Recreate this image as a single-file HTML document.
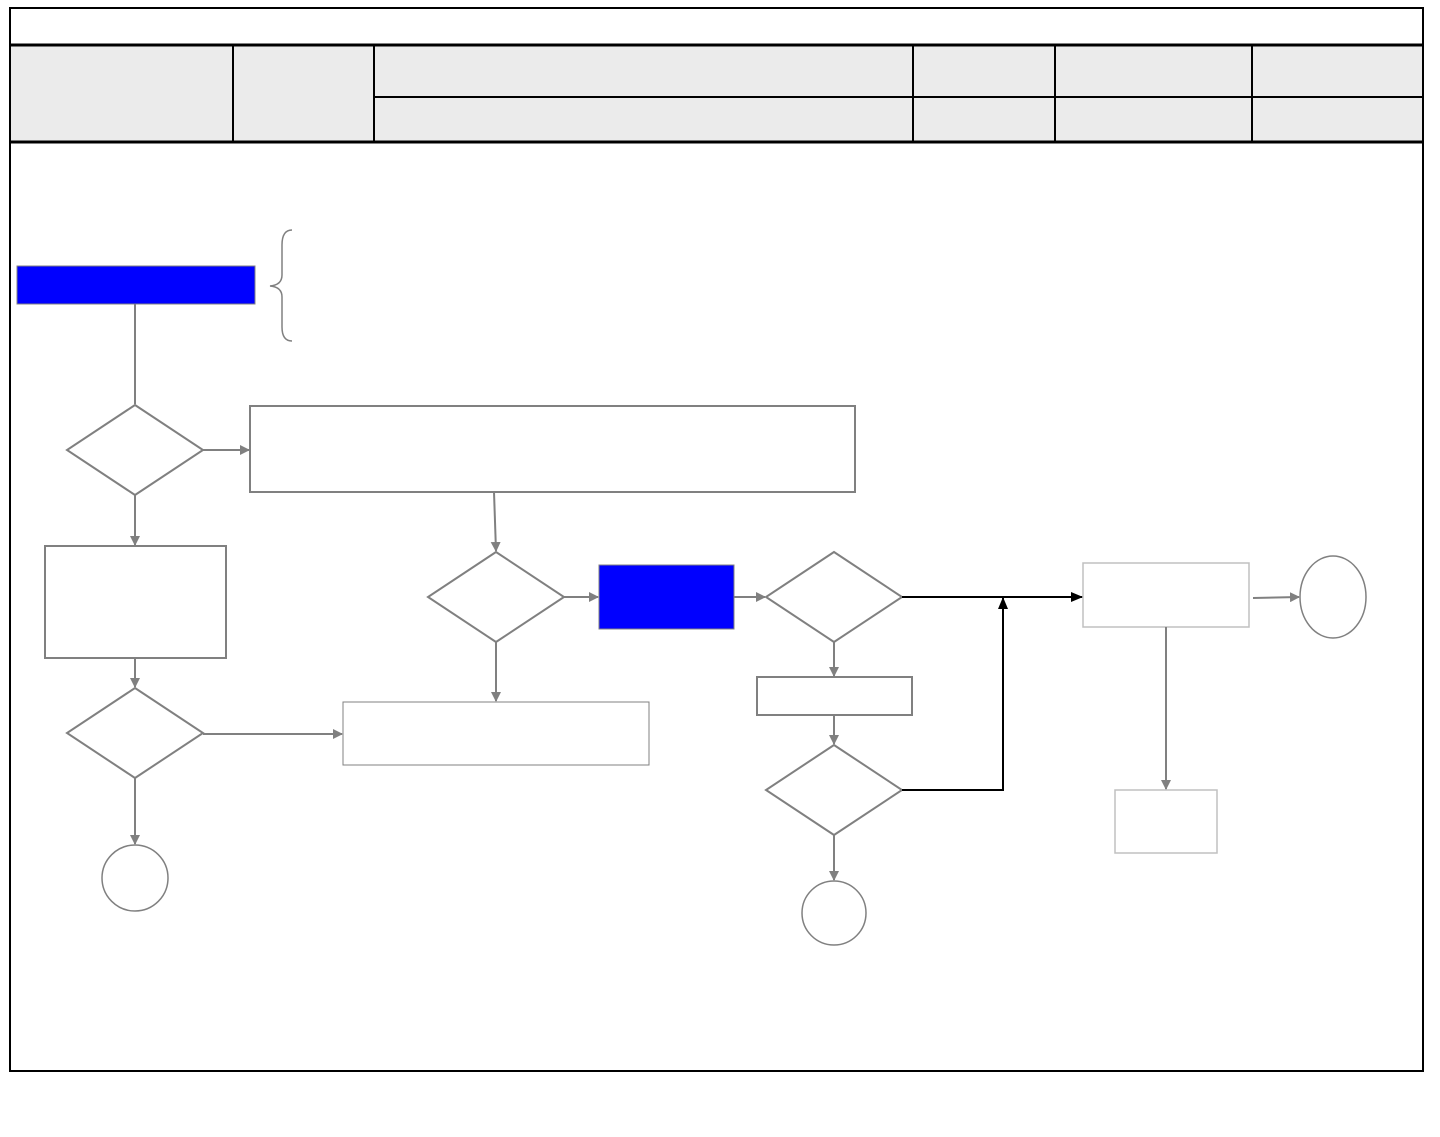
<!DOCTYPE html>
<html><head><meta charset="utf-8"><style>
html,body{margin:0;padding:0;background:#fff;}
svg{display:block;}
</style></head><body>
<svg width="1440" height="1137" viewBox="0 0 1440 1137" xmlns="http://www.w3.org/2000/svg">
<defs>
<marker id="g" markerWidth="10" markerHeight="10" refX="9" refY="5" orient="auto" markerUnits="userSpaceOnUse"><path d="M0,0 L10,5 L0,10 z" fill="#808080"/></marker>
<marker id="k" markerWidth="12" markerHeight="10" refX="11" refY="5" orient="auto" markerUnits="userSpaceOnUse"><path d="M0,0 L12,5 L0,10 z" fill="#000"/></marker>
</defs>
<rect x="10" y="8" width="1413" height="1063" fill="#fff" stroke="#000" stroke-width="2"/>
<rect x="11" y="46" width="1411" height="96" fill="#ebebeb"/>
<line x1="10" y1="45" x2="1422" y2="45" stroke="#000" stroke-width="3"/>
<line x1="374" y1="97" x2="1422" y2="97" stroke="#000" stroke-width="2"/>
<line x1="10" y1="142" x2="1422" y2="142" stroke="#000" stroke-width="3"/>
<g stroke="#000" stroke-width="2">
<line x1="233" y1="45" x2="233" y2="142"/><line x1="374" y1="45" x2="374" y2="142"/>
<line x1="913" y1="45" x2="913" y2="142"/><line x1="1055" y1="45" x2="1055" y2="142"/>
<line x1="1252" y1="45" x2="1252" y2="142"/>
</g>
<rect x="17" y="266" width="238" height="38" fill="#0000ff" stroke="#808080"/>
<path d="M292,230 Q282,230 282,245 L282,275 Q282,285 270,286 Q282,287 282,297 L282,327 Q282,341 292,341" fill="none" stroke="#808080" stroke-width="1.5"/>
<g fill="#fff" stroke="#808080" stroke-width="2">
<polygon points="135,405 203,450 135,495 67,450"/>
<rect x="250" y="406" width="605" height="86"/>
<rect x="45" y="546" width="181" height="112"/>
<polygon points="135,688 203,733 135,778 67,733"/>
<rect x="343" y="702" width="306" height="63" stroke-width="1"/>
<circle cx="135" cy="878" r="33" stroke-width="1.5"/>
<polygon points="496,552 564,597 496,642 428,597"/>
<polygon points="834,552 902,597 834,642 766,597"/>
<rect x="757" y="677" width="155" height="38"/>
<polygon points="834,745 902,790 834,835 766,790"/>
<circle cx="834" cy="913" r="32" stroke-width="1.5"/>
<ellipse cx="1333" cy="597" rx="33" ry="41" stroke-width="1.5"/>
</g>
<rect x="599" y="565" width="135" height="64" fill="#0000ff" stroke="#808080"/>
<rect x="1083" y="563" width="166" height="64" fill="#fff" stroke="#c0c0c0" stroke-width="1.5"/>
<rect x="1115" y="790" width="102" height="63" fill="#fff" stroke="#c0c0c0" stroke-width="1.5"/>
<g stroke="#808080" stroke-width="2" fill="none">
<line x1="135" y1="304" x2="135" y2="404"/>
<line x1="203" y1="450" x2="249" y2="450" marker-end="url(#g)"/>
<line x1="135" y1="495" x2="135" y2="545" marker-end="url(#g)"/>
<line x1="135" y1="658" x2="135" y2="687" marker-end="url(#g)"/>
<line x1="203" y1="734" x2="342" y2="734" marker-end="url(#g)"/>
<line x1="135" y1="778" x2="135" y2="844" marker-end="url(#g)"/>
<line x1="494" y1="492" x2="496" y2="551" marker-end="url(#g)"/>
<line x1="564" y1="597" x2="598" y2="597" marker-end="url(#g)"/>
<line x1="496" y1="642" x2="496" y2="701" marker-end="url(#g)"/>
<line x1="734" y1="597" x2="765" y2="597" marker-end="url(#g)"/>
<line x1="834" y1="642" x2="834" y2="676" marker-end="url(#g)"/>
<line x1="834" y1="715" x2="834" y2="744" marker-end="url(#g)"/>
<line x1="834" y1="835" x2="834" y2="880" marker-end="url(#g)"/>
<line x1="1253" y1="598" x2="1299" y2="597" marker-end="url(#g)"/>
<line x1="1166" y1="627" x2="1166" y2="789" marker-end="url(#g)"/>
</g>
<g stroke="#000" stroke-width="2" fill="none">
<line x1="902" y1="597" x2="1082" y2="597" marker-end="url(#k)"/>
<polyline points="902,790 1003,790 1003,598" marker-end="url(#k)"/>
</g>
</svg>
</body></html>
